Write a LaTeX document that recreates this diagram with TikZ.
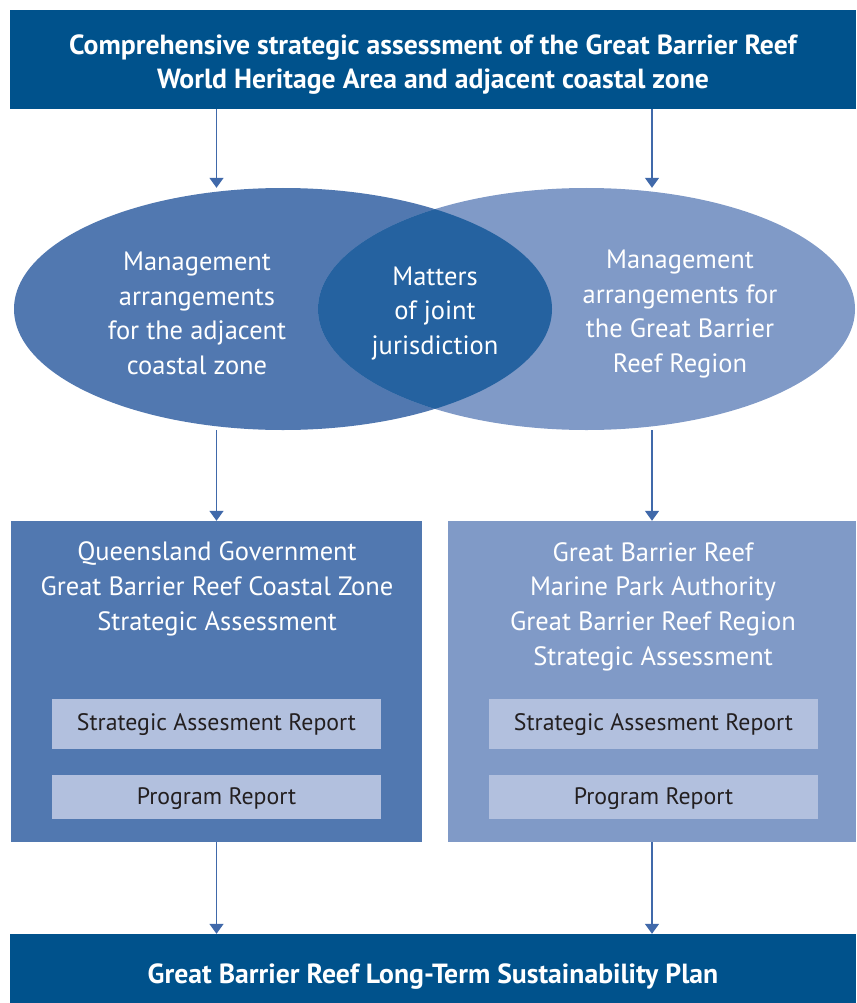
\documentclass[tikz,border=0pt]{standalone}
\usepackage{fontspec}
\setmainfont{PT Sans}
\usetikzlibrary{arrows.meta,positioning,shapes.geometric}
\definecolor{reefnavy}{RGB}{0,82,140}
\definecolor{reefleft}{RGB}{81,120,176}
\definecolor{reefright}{RGB}{128,154,199}
\definecolor{reeflens}{RGB}{37,98,160}
\definecolor{reefpale}{RGB}{178,192,222}
\definecolor{reefarrow}{RGB}{64,105,170}
\definecolor{reefink}{RGB}{35,31,32}
\tikzset{
  headbox/.style={rectangle, fill=reefnavy, inner sep=0pt, minimum width=846pt},
  headtext/.style={text=white, font=\bfseries\fontsize{27.7}{34}\selectfont, align=center, inner sep=0pt},
  zonebox/.style={rectangle, inner sep=0pt, minimum height=321pt},
  zonetext/.style={text=white, align=center, inner sep=0pt, font=\fontsize{26.5}{34.7}\selectfont},
  reportbox/.style={rectangle, fill=reefpale, text=reefink, inner sep=0pt, minimum width=329pt, font=\fontsize{23.8}{28}\selectfont},
  flow/.style={-{Triangle[width=14pt,length=10pt]}, line width=1.5pt, draw=reefarrow}
}

\begin{document}
\begin{tikzpicture}[x=1pt, y=-1pt]
  \useasboundingbox (0,0) rectangle (856,1003);
  % heading
  \node[headbox, minimum height=99pt] (top) at (433,59.5) {};
  \node[headtext] (toptext) at (433,65) {Comprehensive strategic assessment of the Great Barrier Reef\\World Heritage Area and adjacent coastal zone};
  % the two management areas and their overlap
  \node[ellipse, fill=reefleft, minimum width=538pt, minimum height=242pt, inner sep=0pt] (lz) at (283,309) {};
  \node[ellipse, fill=reefright, minimum width=537pt, minimum height=242pt, inner sep=0pt] (rz) at (586.5,309) {};
  \begin{scope}
    \clip (283,309) ellipse [x radius=269pt, y radius=121pt];
    \fill[reeflens] (586.5,309) ellipse [x radius=268.5pt, y radius=121pt];
  \end{scope}
  \node[zonetext] (lztext) at (197,313.5) {Management\\arrangements\\for the adjacent\\coastal zone};
  \node[zonetext] (rztext) at (680,314) {Management\\arrangements for\\the Great Barrier\\Reef Region};
  \node[zonetext] (joint) at (435,313.5) {Matters\\of joint\\jurisdiction};
  % strategic assessments
  \node[zonebox, fill=reefleft, minimum width=411pt] (lbox) at (216.5,681.5) {};
  \node[zonebox, fill=reefright, minimum width=408pt] (rbox) at (652,681.5) {};
  \node[zonetext] (lboxtext) at (217,589) {Queensland Government\\Great Barrier Reef Coastal Zone\\Strategic Assessment};
  \node[zonetext] (rboxtext) at (653,606.5) {Great Barrier Reef\\Marine Park Authority\\Great Barrier Reef Region\\Strategic Assessment};
  \node[reportbox, minimum height=50pt, text depth=3pt] (lsar) at (216.5,724) {Strategic Assesment Report};
  \node[reportbox, minimum height=44pt, text depth=3pt, below=26pt of lsar] (lprog) {Program Report};
  \node[reportbox, minimum height=50pt, text depth=3pt] (rsar) at (653.5,724) {Strategic Assesment Report};
  \node[reportbox, minimum height=44pt, text depth=3pt, below=26pt of rsar] (rprog) {Program Report};
  % plan
  \node[headbox, minimum height=88pt] (plan) at (433,978) {};
  \node[headtext] (plantext) at (433,977) {Great Barrier Reef Long-Term Sustainability Plan};
  % arrows
  \draw[flow] (top.south -| lbox.north) -- (lz.north -| lbox.north);
  \draw[flow] (top.south -| rbox.north) -- (rz.north -| rbox.north);
  \draw[flow] (lz.south -| lbox.north) -- (lbox.north);
  \draw[flow] (rz.south -| rbox.north) -- (rbox.north);
  \draw[flow] (lbox.south) -- (plan.north -| lbox.south);
  \draw[flow] (rbox.south) -- (plan.north -| rbox.south);
\end{tikzpicture}
\end{document}
